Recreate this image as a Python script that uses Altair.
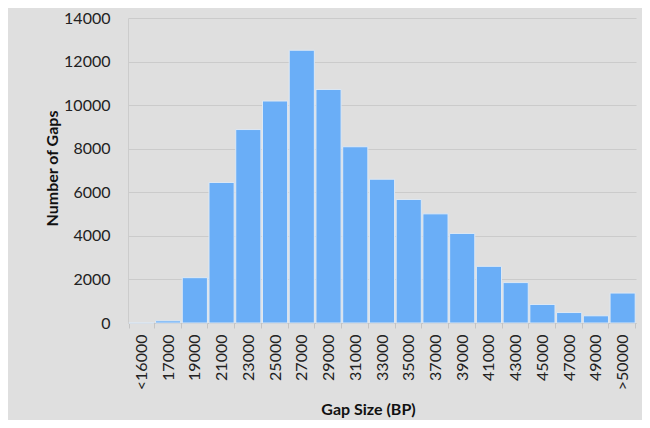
import altair as alt
import pandas as pd

categories = ["<16000", "17000", "19000", "21000", "23000", "25000", "27000", "29000",
              "31000", "33000", "35000", "37000", "39000", "41000", "43000", "45000",
              "47000", "49000", ">50000"]
counts = [0, 100, 2080, 6450, 8880, 10190, 12520, 10720, 8090, 6600, 5670, 5010,
          4110, 2600, 1855, 850, 480, 330, 1375]

df = pd.DataFrame({"gap": categories, "count": counts})

FONT = "Lato"

chart = alt.Chart(df).mark_bar(
    color="#6aaef7", stroke="#dde8f4", strokeWidth=1
).encode(
    x=alt.X("gap:N", sort=categories,
            scale=alt.Scale(paddingInner=0.06, paddingOuter=0.03),
            axis=alt.Axis(title="Gap Size (BP)", labelAngle=-90, labelAlign="right",
                          labelBaseline="middle", labelFontSize=16, labelColor="#222222",
                          labelFont=FONT, labelPadding=6,
                          titleFont=FONT, titleFontSize=16, titleFontWeight="bold",
                          titleColor="#111111", titleX=240, titleY=86,
                          titleBaseline="middle",
                          domainColor="#c4c4c4", tickColor="#c4c4c4", tickSize=5,
                          tickBand="extent", grid=False)),
    y=alt.Y("count:Q", scale=alt.Scale(domain=[0, 14000], nice=False),
            axis=alt.Axis(title="Number of Gaps", values=list(range(0, 14001, 2000)),
                          format="d",
                          labelFontSize=16, labelColor="#222222", labelFont=FONT,
                          labelPadding=18, ticks=False,
                          titleFont=FONT, titleFontSize=16, titleFontWeight="bold",
                          titleColor="#111111", titleX=-76, titleY=150,
                          titleBaseline="middle",
                          domain=True, domainColor="#cccccc",
                          gridColor="#cbcbcb", gridWidth=1)),
).properties(
    width=508, height=305,
    background="#dfdfdf",
    padding={"left": 120, "top": 10, "right": 6, "bottom": 97},
    autosize=alt.AutoSizeParams(type="none"),
).configure_view(stroke=None)

chart.save("out.html", embed_options={"renderer": "svg", "actions": False})
